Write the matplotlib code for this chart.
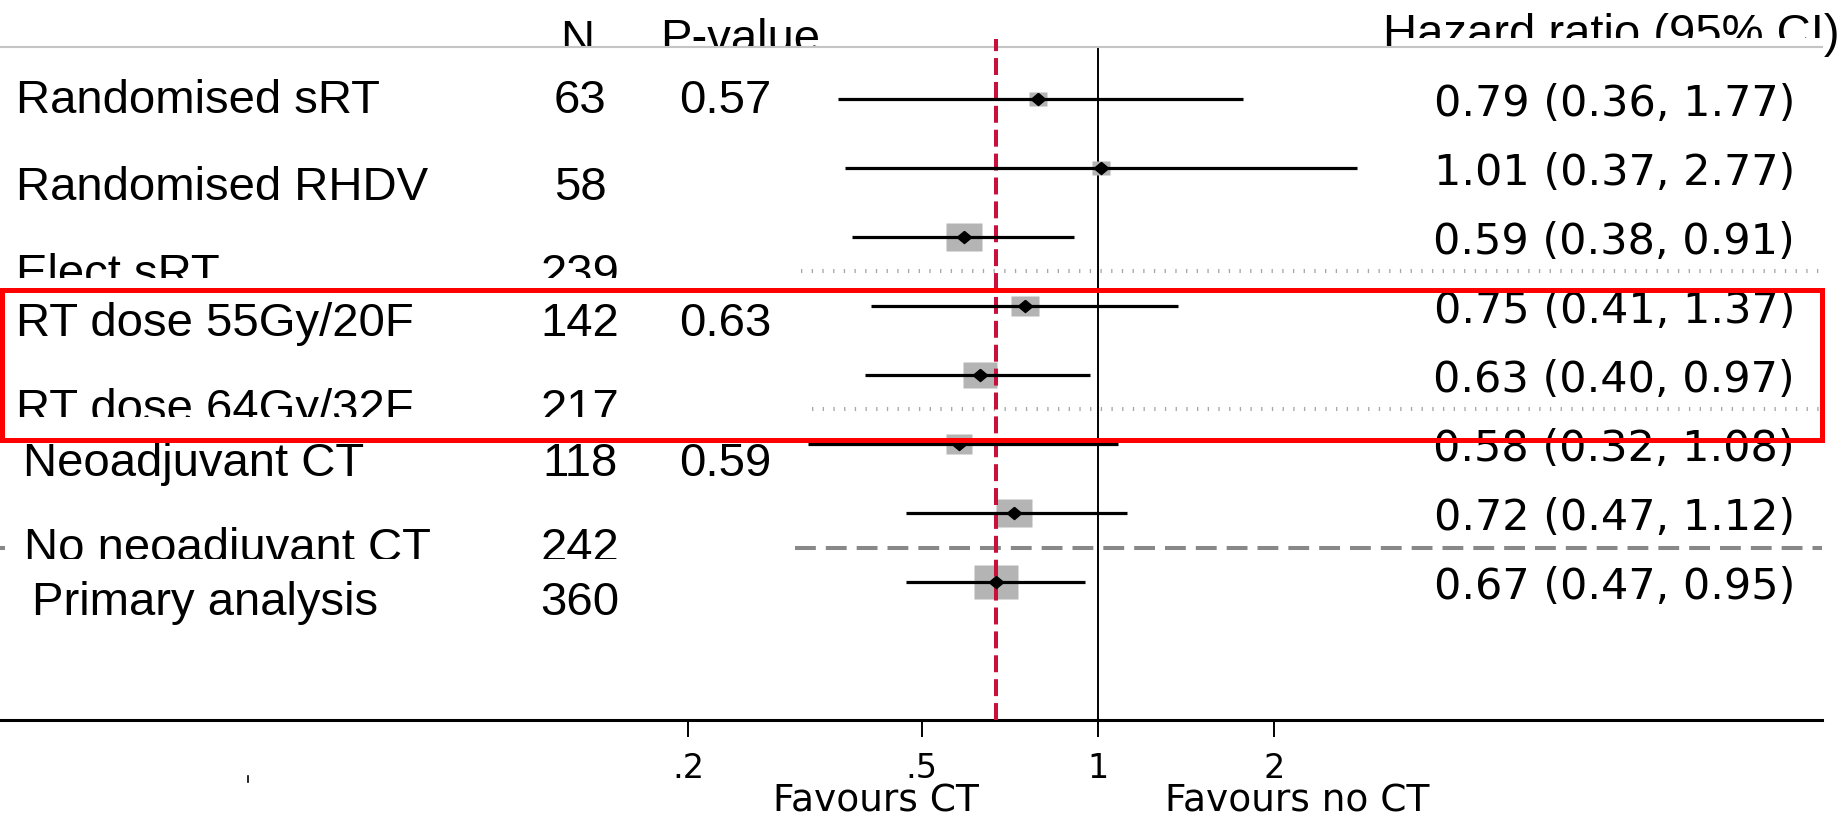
import numpy as np
import matplotlib
matplotlib.use('Agg')
import matplotlib.pyplot as plt
import matplotlib.transforms as mtransforms
from matplotlib.patches import Rectangle
from matplotlib.lines import Line2D
from matplotlib.ticker import NullLocator

# subgroup rows, top to bottom
labels = ['Randomised sRT', 'Randomised RHDV', 'Elect sRT', 'RT dose 55Gy/20F',
          'RT dose 64Gy/32F', 'Neoadjuvant CT', 'No neoadjuvant CT', 'Primary analysis']
n_pat = [63, 58, 239, 142, 217, 118, 242, 360]
p_vals = ['0.57', '', '', '0.63', '', '0.59', '', '']
hr = [0.79, 1.01, 0.59, 0.75, 0.63, 0.58, 0.72, 0.67]
ci_lo = [0.36, 0.37, 0.38, 0.41, 0.40, 0.32, 0.47, 0.47]
ci_hi = [1.77, 2.77, 0.91, 1.37, 0.97, 1.08, 1.12, 0.95]
overall_hr = 0.67
tick_vals = [0.2, 0.5, 1, 2]
tick_labels = ['.2', '.5', '1', '2']

# layout (pixels of the 1845x818 picture)
W, H = 1845, 818
label_x = [16, 16, 16, 16, 16, 23, 24, 32]
label_base = [113, 200, 287, 336, 422, 476, 561, 615]


def fx(x):
    return x / W


def fy(y):
    return 1 - y / H


plt.rcParams['font.family'] = ['Liberation Sans', 'DejaVu Sans']
plt.rcParams['lines.scale_dashes'] = False

fig = plt.figure(figsize=(W / 100, H / 100), dpi=100)
fig.patch.set_facecolor('white')

ax = fig.add_axes([0, fy(720), 1822 / W, (720 - 47) / H])
ax.set_zorder(2)
ax.set_facecolor('white')
ax.set_xscale('log')
ax.set_xlim(10 ** (-1098 / 586), 10 ** ((1822 - 1098) / 586))
ax.set_ylim(9.0, -52 / 69)

for s in ['left', 'right']:
    ax.spines[s].set_visible(False)
ax.spines['top'].set_color('#c4c4c4')
ax.spines['top'].set_linewidth(1.5)
ax.spines['bottom'].set_linewidth(2.2)
ax.set_xticks(tick_vals)
ax.xaxis.set_minor_locator(NullLocator())
ax.tick_params(axis='x', which='major', direction='out', length=12.2, width=1.4,
               labelbottom=False)
ax.set_yticks([])

rows = np.arange(len(labels))
ytr = ax.get_yaxis_transform()
xtr = ax.get_xaxis_transform()

# reference line at 1 and overall estimate
ax.axvline(1, color='black', lw=1.4, zorder=2)
ax.axvline(overall_hr, ymin=0, ymax=1 + 8 / 673, color='#c8103c', lw=2.9,
           ls=(0, (12.2, 5)), clip_on=False, zorder=2.7)

# group separators
ax.plot([801 / 1822, 1], [2.5, 2.5], transform=ytr, color='#a8a8a8', lw=2.9,
        ls=(0, (0.95, 6.75)), zorder=1.5)
ax.plot([812 / 1822, 1], [4.5, 4.5], transform=ytr, color='#a8a8a8', lw=2.9,
        ls=(0, (0.95, 6.75)), zorder=1.5)
ax.plot([795 / 1822, 1], [6.5, 6.5], transform=ytr, color='#888888', lw=2.9,
        ls=(0, (15, 7.2)), zorder=1.5)
ax.plot([0, 3 / 1822], [6.5, 6.5], transform=ytr, color='#888888', lw=2.9, zorder=1.5)

# weight boxes, CIs, point estimates
box = [(-1.34, -1), (1.34, -1), (1.34, 1), (-1.34, 1), (-1.34, -1)]
diamond = [(0, 1), (1.2, 0), (0, -1), (-1.2, 0), (0, 1)]
for i in rows:
    ax.plot(hr[i], i, marker=box, ms=2.35 * np.sqrt(n_pat[i]) * 0.72,
            color='#b4b4b4', mec='none', ls='none', zorder=2.5)
ax.hlines(rows, ci_lo, ci_hi, color='black', lw=2.3, zorder=3)
ax.plot(hr, rows, ls='none', marker=diamond, ms=10.5, color='black', zorder=4)

# hazard ratio column
hr_tr = mtransforms.offset_copy(ytr, fig=fig, x=0, y=-17, units='dots')
for i in rows:
    ax.text(1795 / 1822, i, f'{hr[i]:.2f} ({ci_lo[i]:.2f}, {ci_hi[i]:.2f})',
            transform=hr_tr, ha='right', va='baseline', fontsize=31,
            family='DejaVu Sans')

# tick labels
tk_tr = mtransforms.offset_copy(xtr, fig=fig, x=0, y=-(778 - 720), units='dots')
for v, lab in zip(tick_vals, tick_labels):
    ax.text(v, 0, lab, transform=tk_tr, ha='center', va='baseline', fontsize=24,
            family='DejaVu Sans')

fig.text(fx(876), fy(811), 'Favours CT', ha='center', va='baseline', fontsize=27,
         family='DejaVu Sans')
fig.text(fx(1297), fy(811), 'Favours no CT', ha='center', va='baseline', fontsize=27,
         family='DejaVu Sans')

# headers (partly hidden under the plot panel)
fig.text(fx(577), fy(53), 'N', ha='center', va='baseline', fontsize=34, zorder=1)
fig.text(fx(660), fy(52), 'P-value', ha='left', va='baseline', fontsize=34, zorder=1)
fig.text(fx(1383), fy(47), 'Hazard ratio (95% CI)', ha='left', va='baseline',
         fontsize=34, zorder=1)
fig.add_artist(Rectangle((fx(1396), fy(47)), (1822 - 1396) / W, 9 / H,
                         transform=fig.transFigure, fc='white', ec='none', zorder=1.5))

# left columns
for i in rows:
    fig.text(fx(label_x[i]), fy(label_base[i]), labels[i], ha='left', va='baseline',
             fontsize=34)
    fig.text(fx(580), fy(label_base[i]), str(n_pat[i]), ha='center', va='baseline',
             fontsize=34)
    if p_vals[i]:
        fig.text(fx(725), fy(label_base[i]), p_vals[i], ha='center', va='baseline',
                 fontsize=34)

# cut-off strips over the row labels
for y0, y1 in [(278, 288), (417, 437), (559, 575)]:
    fig.add_artist(Rectangle((0, fy(y1)), 790 / W, (y1 - y0) / H,
                             transform=fig.transFigure, fc='white', ec='none',
                             zorder=3.5))

# highlight box
fig.add_artist(Rectangle((fx(1.5), fy(440)), 1820.5 / W, 150 / H,
                         transform=fig.transFigure, fill=False, ec='#ff0000',
                         lw=3.6, zorder=5))
fig.add_artist(Line2D([fx(248), fx(248)], [fy(776), fy(782)], color='black', lw=1.2))

fig.savefig('out.png', dpi=100)
